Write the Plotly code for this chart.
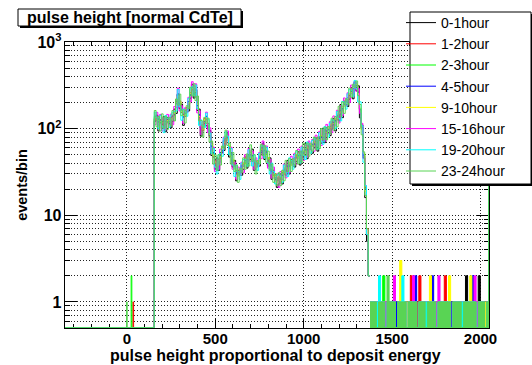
import math
import plotly.graph_objects as go

# ---------------- data ----------------
series_names = ["0-1hour", "1-2hour", "2-3hour", "4-5hour",
                "9-10hour", "15-16hour", "19-20hour", "23-24hour"]
series_colors = ["#000000", "#ff0000", "#00ff00", "#0000ff",
                 "#ffff00", "#ff00ff", "#00ffff", "#59d454"]

x_axis_range = [-350, 2048]
main_start, main_width = 155, 10      # spectrum bins (155 .. 1375)
tail_start, tail_width = 1375, 12     # above-peak tail bins
sat_edge = 2046                       # saturation (overflow) bin

main_black = [122,143,94,126,100,138,92,134,115,102,
              122,168,150,252,170,192,109,160,156,160,
              225,325,225,284,162,168,82,110,115,108,
              99,95,49,53,34,46,33,53,53,56,
              72,87,47,53,36,43,25,33,29,29,
              34,47,35,50,44,58,33,42,37,37,
              50,67,44,55,37,46,26,33,26,21,
              23,30,23,34,29,43,30,44,39,36,
              42,54,38,55,46,67,45,66,58,52,
              60,78,55,80,68,101,69,102,90,83,
              99,131,94,141,123,190,134,207,189,180,
              220,297,221,347,272,312,133,110,46,16,
              5,2]
main_red = [128,134,119,126,112,121,113,128,119,134,
            141,144,206,231,208,154,146,139,176,193,
            258,281,310,262,198,134,110,95,130,129,
            115,81,68,47,43,36,44,46,61,67,
            77,82,59,52,40,38,30,32,30,38,
            40,40,48,45,55,46,44,36,42,44,
            57,58,61,50,46,36,35,28,30,25,
            27,25,31,30,36,34,40,38,44,43,
            49,46,52,50,56,54,60,58,65,63,
            69,67,76,73,83,81,91,90,101,100,
            114,113,129,130,150,153,177,183,210,219,
            250,259,300,322,315,266,165,104,48,21,
            7,2]
main_lime = [138,124,128,117,121,112,121,119,128,125,
             132,153,196,246,196,163,137,148,167,204,
             246,294,296,276,186,143,102,103,122,138,
             107,88,63,52,39,39,41,49,56,72,
             82,76,63,49,43,35,33,29,33,35,
             39,41,47,47,53,47,43,37,41,45,
             56,59,59,51,45,37,34,29,29,25,
             27,26,31,31,35,35,39,39,43,44,
             48,47,51,51,55,55,59,59,64,64,
             68,69,74,75,81,83,89,92,99,103,
             111,116,126,133,146,157,173,187,206,224,
             246,264,296,328,322,258,171,99,51,20,
             6,2]
main_blue = [131,132,121,124,114,119,115,126,121,132,
             139,146,194,248,193,165,136,150,164,206,
             244,296,292,278,184,145,101,104,121,139,
             113,83,62,53,38,40,40,50,55,73,
             78,80,60,51,41,37,31,31,31,37,
             37,43,44,49,50,49,41,39,39,47,
             53,61,56,53,43,39,32,31,27,27,
             25,28,29,33,33,37,37,41,41,46,
             46,49,49,53,53,57,57,61,62,66,
             66,71,72,77,79,85,87,94,97,105,
             108,118,123,136,143,160,170,190,203,227,
             242,268,292,334,318,262,168,101,49,20,
             6,2]
main_yellow = [133,126,123,122,116,117,116,124,123,130,
               133,152,198,238,204,158,142,143,172,198,
               254,288,304,268,192,138,107,98,127,133,
               112,86,66,49,41,37,43,47,59,69,
               84,74,64,48,44,34,34,28,34,34,
               40,39,49,45,54,46,44,36,42,44,
               58,57,60,49,46,36,35,28,30,24,
               28,25,32,30,36,34,40,38,44,43,
               50,46,52,50,56,54,61,58,66,63,
               70,68,76,74,83,82,91,91,101,102,
               114,115,129,132,149,156,176,186,209,222,
               249,262,298,326,324,256,172,98,52,19,
               6,2]
main_magenta = [111,154,110,146,94,132,97,146,112,147,
                111,180,176,293,160,184,115,174,153,230,
                205,348,264,329,152,161,86,120,112,155,
                90,102,57,61,32,44,34,58,52,80,
                66,94,55,61,34,41,26,36,29,41,
                31,50,40,59,42,55,34,46,36,53,
                45,72,51,63,35,44,27,36,25,30,
                21,32,26,39,27,41,31,48,38,52,
                39,58,44,63,43,64,48,72,57,75,
                55,84,64,93,64,97,72,112,88,120,
                90,140,110,163,116,182,141,226,185,259,
                201,318,260,350,270,290,150,115,45,22,
                6,2]
main_cyan = [155,134,100,142,106,90,142,132,103,143,
             155,158,160,283,180,125,168,157,139,224,
             288,305,240,319,171,109,126,108,103,151,
             127,89,52,59,36,30,50,52,48,78,
             92,82,50,59,38,28,38,32,26,40,
             44,44,37,57,47,37,50,41,33,52,
             63,63,46,61,40,30,40,32,23,29,
             30,28,24,38,31,28,46,43,34,50,
             54,50,40,61,49,44,70,65,52,73,
             77,74,58,90,72,66,106,100,80,116,
             127,123,100,158,131,123,206,203,168,252,
             282,278,236,360,288,203,204,108,41,22,
             6,2]
main_green = [162,105,138,94,148,101,139,98,135,109,
              162,123,220,187,250,141,165,116,184,170,
              300,238,330,211,238,123,124,80,135,115,
              132,70,72,39,50,33,50,38,63,60,
              96,64,68,39,53,32,38,24,35,31,
              46,34,51,37,65,42,50,30,43,39,
              66,49,64,41,55,33,39,24,30,22,
              31,22,33,25,43,32,45,32,45,38,
              56,39,55,41,68,49,68,48,68,55,
              80,57,80,59,100,74,104,74,106,88,
              132,96,138,105,181,139,203,150,221,191,
              294,230,325,300,355,240,190,85,54,17,
              7,2]

tail_black = [1,1,1,1,1,1,1,1, 1,1,1,1,1,1,1,1, 1,1,1,1,1,1,1,1, 1,1,1,1,1,1,1,1, 1,1,1,1,1,1,1,1, 1,1,1,1,1,2,1,1, 1,1,1,2,1,1,1,1]
tail_red = [1,1,1,1,1,1,1,1, 1,1,1,1,1,1,1,1, 1,1,1,2,1,1,1,2, 1,1,1,1,1,1,1,1, 1,1,1,2,1,1,1,1, 1,1,1,1,1,1,1,1, 1,1,1,1,1,1,1,1]
tail_lime = [1,1,1,1,1,1,2,1, 1,1,1,1,1,1,1,1, 1,1,1,1,1,1,0,1, 1,1,1,1,1,1,1,1, 1,1,1,1,1,1,1,1, 1,1,1,1,1,1,1,1, 1,1,1,1,1,1,1,1]
tail_blue = [1,1,1,1,1,1,1,1, 1,1,1,1,1,1,1,1, 1,1,1,1,1,2,0,1, 1,1,1,1,1,2,1,1, 1,1,1,1,1,1,1,1, 1,1,1,1,1,1,1,1, 2,1,1,1,1,1,1,1]
tail_yellow = [1,1,1,1,1,1,1,1, 1,1,1,1,0,1,3,1, 1,1,1,1,1,1,0,1, 1,1,1,1,2,1,1,1, 1,1,1,1,1,2,0,1, 1,1,1,1,1,1,1,2, 1,1,1,1,1,1,1,1]
tail_magenta = [1,1,1,1,1,1,1,1, 1,1,1,2,0,1,1,1, 1,0,1,1,2,1,0,1, 1,1,1,1,1,1,1,1, 2,1,1,1,1,1,0,1, 1,1,1,1,1,1,1,1, 1,2,1,1,1,1,0,1]
tail_cyan = [1,1,1,1,2,1,1,0, 1,1,1,1,0,1,1,2, 1,0,1,1,1,1,0,1, 1,1,1,1,1,1,1,0, 1,1,1,1,1,1,0,1, 1,1,1,1,1,1,1,1, 1,1,0,1,1,1,0,1]
tail_green = [1,1,1,0,1,1,1,0, 2,1,1,1,0,1,1,1, 1,0,1,1,1,1,0,1, 1,1,0,1,1,1,1,0, 1,1,1,1,1,1,0,1, 1,1,1,0,1,1,1,1, 1,1,0,1,1,1,0,1]

# isolated low pulse-height events: (bin low edge, bin high edge, count)
low_black, low_red, low_lime, low_blue = [], [(34, 38, 1)], [(24, 28, 2)], []
low_yellow, low_magenta, low_cyan, low_green = [], [], [], [(-2, 2, 1)]

sat_counts = [1450, 1500, 1480, 1520, 1470, 1490, 1510, 1460]

main_counts = [main_black, main_red, main_lime, main_blue,
               main_yellow, main_magenta, main_cyan, main_green]
tail_counts = [tail_black, tail_red, tail_lime, tail_blue,
               tail_yellow, tail_magenta, tail_cyan, tail_green]
low_events = [low_black, low_red, low_lime, low_blue,
              low_yellow, low_magenta, low_cyan, low_green]

# ---------------- figure ----------------
Y_MIN = 0.5
FLOOR = 0.505          # empty bins drawn on the bottom of the frame (log axis)
FONT = "Liberation Sans, Arial, Helvetica, sans-serif"


def lv(c):
    return c if c > 0 else FLOOR


fig = go.Figure()
for i, name in enumerate(series_names):
    col = series_colors[i]
    xs, ys = [x_axis_range[0]], [FLOOR]
    for lo, hi, c in low_events[i]:
        xs += [lo, hi]
        ys += [lv(c), FLOOR]
    for k, c in enumerate(main_counts[i]):
        xs.append(main_start + k * main_width)
        ys.append(lv(c))
    xs.append(tail_start)
    ys.append(lv(main_counts[i][-1]))
    fig.add_trace(go.Scatter(x=xs, y=ys, mode="lines", name=name,
                             line=dict(color=col, width=1, shape="hv"),
                             hoverinfo="skip"))
    txs, tys = [], []
    for k, c in enumerate(tail_counts[i]):
        txs.append(tail_start + k * tail_width)
        tys.append(lv(c))
    txs += [sat_edge, x_axis_range[1]]
    tys += [sat_counts[i], sat_counts[i]]
    fig.add_trace(go.Scatter(x=txs, y=tys, mode="lines", showlegend=False,
                             line=dict(color=col, width=1, shape="hv"),
                             fill="tozeroy", fillcolor=col,
                             hoverinfo="skip"))

# plot-area geometry in pixels
L, R, T, B = 65, 489, 42, 328
W, H = 532, 365


def px(x):
    return (x - L) / (R - L)


def py(y):
    return (B - y) / (B - T)


def box(x0, y0, x1, y1, shadow=3):
    return [
        dict(type="rect", xref="paper", yref="paper", layer="above",
             x0=px(x0 + shadow), x1=px(x1 + shadow), y0=py(y1 + shadow), y1=py(y0 + shadow),
             fillcolor="black", line=dict(width=0)),
        dict(type="rect", xref="paper", yref="paper", layer="above",
             x0=px(x0), x1=px(x1), y0=py(y1), y1=py(y0),
             fillcolor="white", line=dict(color="black", width=1)),
    ]


shapes = box(18, 9, 241, 26, 2) + box(410, 12, 531, 184, 2)

grid_dash = "1px,2px"
fig.update_layout(
    width=W, height=H,
    margin=dict(l=L, r=W - R, t=T, b=H - B, pad=0, autoexpand=False),
    plot_bgcolor="white", paper_bgcolor="white",
    font=dict(family=FONT, color="black"),
    shapes=shapes,
    annotations=[
        dict(text="pulse height [normal CdTe]", xref="paper", yref="paper",
             x=px(130), y=py(17.5), xanchor="center", yanchor="middle",
             showarrow=False, font=dict(size=16, weight="bold", family=FONT)),
        dict(text="pulse height proportional to deposit energy", xref="paper", yref="paper",
             x=px(275), y=py(355.5), xanchor="center", yanchor="middle",
             showarrow=False, font=dict(size=16, weight="bold", family=FONT)),
    ],
    legend=dict(x=px(401), y=py(187), xanchor="left", yanchor="bottom",
                bgcolor="rgba(0,0,0,0)", borderwidth=0,
                font=dict(size=14, family=FONT),
                traceorder="normal"),
    xaxis=dict(range=x_axis_range, dtick=500, tick0=0,
               ticks="inside", ticklen=9, tickcolor="black",
               minor=dict(dtick=100, ticks="inside", ticklen=4, tickcolor="black",
                          showgrid=False),
               showline=True, linecolor="black", linewidth=1, mirror="allticks",
               showgrid=True, gridcolor="#222", gridwidth=1, griddash=grid_dash,
               zeroline=False, layer="below traces",
               tickfont=dict(size=15, weight="bold"), ticklabelstandoff=-3),
    yaxis=dict(type="log", range=[math.log10(Y_MIN), 3], dtick=1,
               exponentformat="power",
               ticks="inside", ticklen=12, tickcolor="black",
               minor=dict(dtick="D1", ticks="inside", ticklen=5, tickcolor="black",
                          showgrid=True, gridcolor="#222", gridwidth=1,
                          griddash=grid_dash),
               showline=True, linecolor="black", linewidth=1, mirror="allticks",
               showgrid=True, gridcolor="#222", gridwidth=1, griddash=grid_dash,
               zeroline=False, layer="below traces",
               tickfont=dict(size=12.8, weight="bold"),
               title=dict(text="events/bin", font=dict(size=14.5, weight="bold"),
                          standoff=6)),
)

fig.write_html("out.html")
